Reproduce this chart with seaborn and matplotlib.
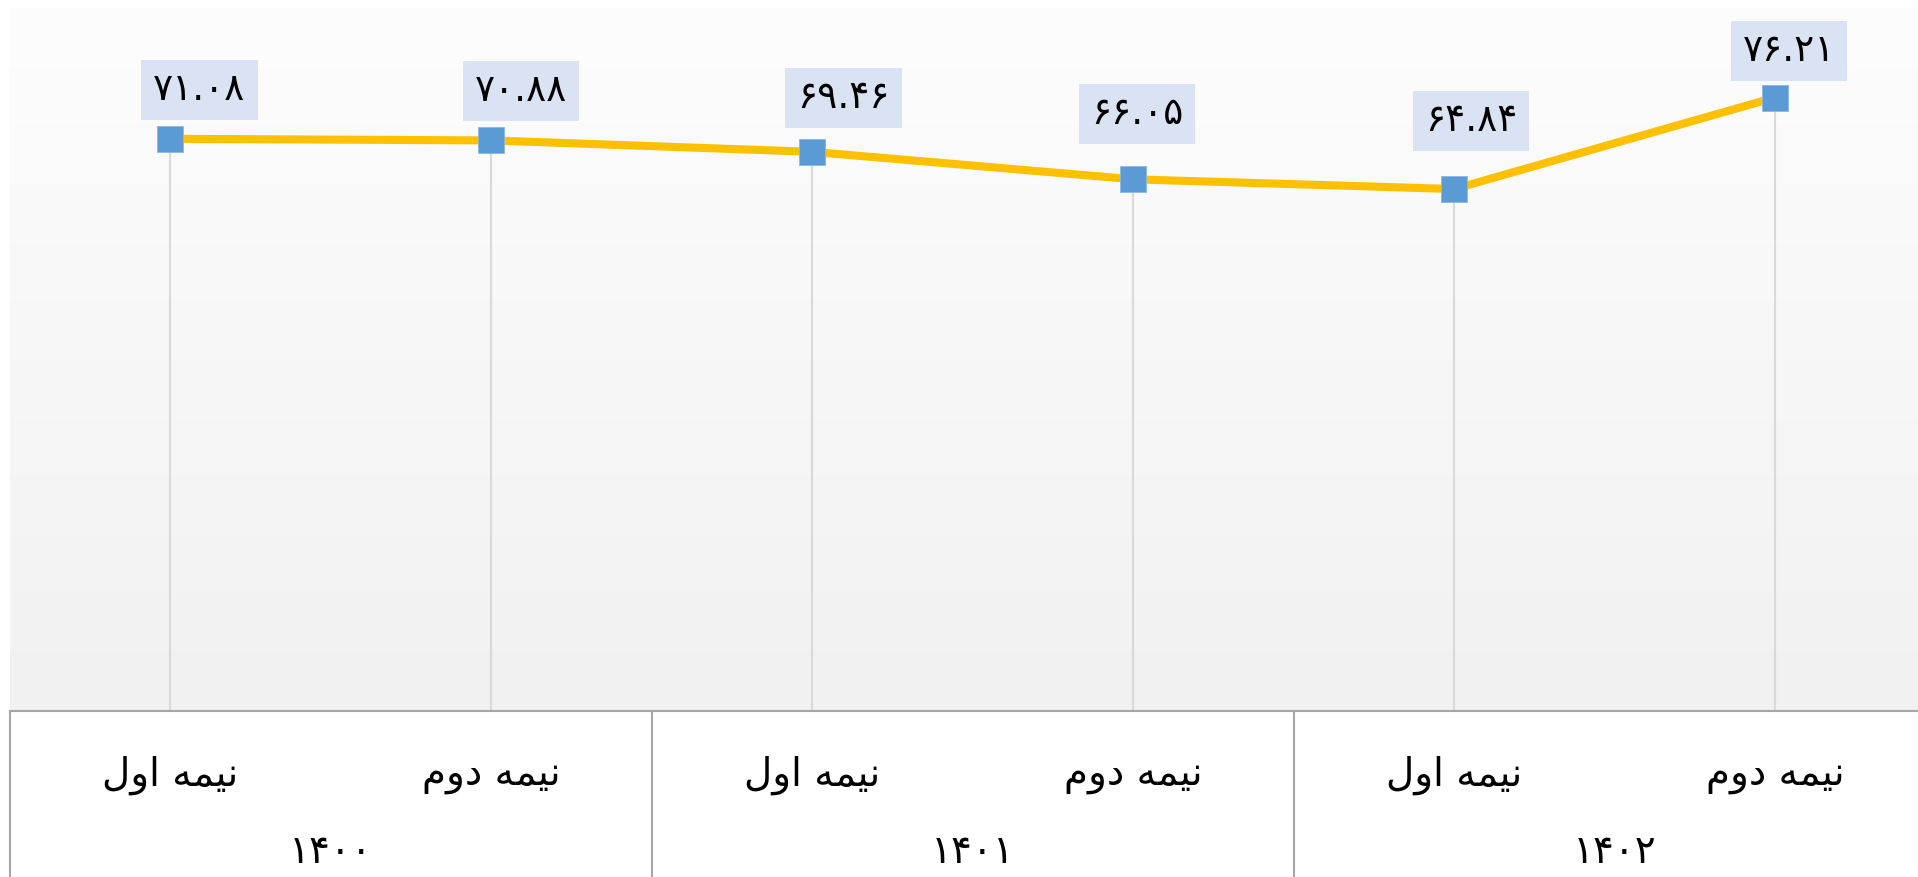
import matplotlib
matplotlib.use("Agg")

import matplotlib.pyplot as plt
import numpy as np
import pandas as pd
import seaborn as sns
from matplotlib.colors import LinearSegmentedColormap

# ── Data ─────────────────────────────────────────────────────────────

years = ["1400", "1401", "1402"]
halves = ["نیمه اول", "نیمه دوم"]
values = [71.08, 70.88, 69.46, 66.05, 64.84, 76.21]

# ── Style ────────────────────────────────────────────────────────────

LINE_COLOR = "#FFC000"
MARKER_COLOR = "#5B9BD5"
LABEL_BOX = "#DAE3F3"
TABLE_LINE = "#a6a6a6"

# label boxes were nudged by hand in the source chart (pixels, right / up)
LABEL_OFFSETS = [(29, 49), (30, 49), (31, 54), (4, 65), (17, 68), (14, 47)]

sns.set_theme(style="white")
plt.rcParams["font.family"] = ["DejaVu Sans"]

# ── Persian helpers (matplotlib has no Arabic shaping) ──────────────

FORMS = {  # isolated, final, initial, medial
    "ن": "\ufee5\ufee6\ufee7\ufee8",
    "ی": "\ufbfc\ufbfd\ufbfe\ufbff",
    "م": "\ufee1\ufee2\ufee3\ufee4",
    "ه": "\ufee9\ufeea\ufeeb\ufeec",
    "ل": "\ufedd\ufede\ufedf\ufee0",
    "ا": "\ufe8d\ufe8e",
    "و": "\ufeed\ufeee",
    "د": "\ufea9\ufeaa",
}
FA_DIGITS = str.maketrans("0123456789", "۰۱۲۳۴۵۶۷۸۹")


def shape(text):
    """Pick contextual forms and reverse to visual (LTR) order."""
    out = []
    for i, ch in enumerate(text):
        forms = FORMS.get(ch)
        if forms is None:
            out.append(ch)
            continue
        prev = text[i - 1] if i > 0 else None
        nxt = text[i + 1] if i + 1 < len(text) else None
        joins_prev = prev in FORMS and len(FORMS[prev]) == 4
        joins_next = len(forms) == 4 and nxt in FORMS
        out.append(forms[(1 if joins_prev else 0) + (2 if joins_next else 0)])
    return "".join(reversed(out))


def fa_num(s):
    return s.translate(FA_DIGITS)


# ── Frame ────────────────────────────────────────────────────────────

df = pd.DataFrame({
    "pos": np.arange(len(values)),
    "year": [y for y in years for _ in halves],
    "half": halves * len(years),
    "value": values,
})

W, H = 1918, 877
fig = plt.figure(figsize=(W / 100, H / 100), dpi=100)
ax_bottom, ax_top = 711, 8
ax = fig.add_axes([10 / W, (H - ax_bottom) / H, 6 * 320.9 / W, (ax_bottom - ax_top) / H])

ymax = (ax_bottom - ax_top) / 8.05
ax.set_xlim(-0.5, len(values) - 0.5)
ax.set_ylim(0, ymax)

# soft vertical gradient behind the plot area
grad = LinearSegmentedColormap.from_list("bg", ["#f1f1f1", "#fdfdfd"])
ax.imshow(np.linspace(0, 1, 256).reshape(-1, 1), cmap=grad, origin="lower",
          extent=(-0.5, len(values) - 0.5, 0, ymax), aspect="auto", zorder=0)

# drop lines from each point to the axis
ax.vlines(df["pos"], 0, df["value"], color="#d9d9d9", linewidth=1.5, zorder=1)

sns.lineplot(data=df, x="pos", y="value", color=LINE_COLOR, linewidth=5.8,
             ax=ax, zorder=2)
sns.scatterplot(data=df, x="pos", y="value", marker="s", s=350,
                color=MARKER_COLOR, edgecolor="#8db8e3", linewidth=0.6,
                ax=ax, zorder=3)

for (_, row), (dx, dy) in zip(df.iterrows(), LABEL_OFFSETS):
    ax.annotate(
        fa_num(f"{row['value']:.2f}"), (row["pos"], row["value"]),
        textcoords="offset pixels", xytext=(dx, dy),
        ha="center", va="center", fontsize=27, color="black", zorder=4,
        bbox=dict(boxstyle="square,pad=0.32", facecolor=LABEL_BOX, edgecolor="none"),
    )

# ── Category table below the axis ───────────────────────────────────

xt = ax.get_xaxis_transform()
for _, row in df.iterrows():
    ax.text(row["pos"], -0.091, shape(row["half"]), transform=xt,
            ha="center", va="center", fontsize=28, color="black")
for i, year in enumerate(years):
    ax.text(2 * i + 0.5, -0.201, fa_num(year), transform=xt,
            ha="center", va="center", fontsize=28, color="black")
for x in np.arange(-0.5, len(values), 2):
    ax.plot([x, x], [0, -0.3], transform=xt, color=TABLE_LINE,
            linewidth=1.5, clip_on=False)

ax.set_xticks([])
ax.set_yticks([])
ax.set_xlabel("")
ax.set_ylabel("")
for side in ["top", "left", "right"]:
    ax.spines[side].set_visible(False)
ax.spines["bottom"].set_color(TABLE_LINE)
ax.spines["bottom"].set_linewidth(1.5)

fig.savefig("out.png", dpi=100)
plt.close(fig)
